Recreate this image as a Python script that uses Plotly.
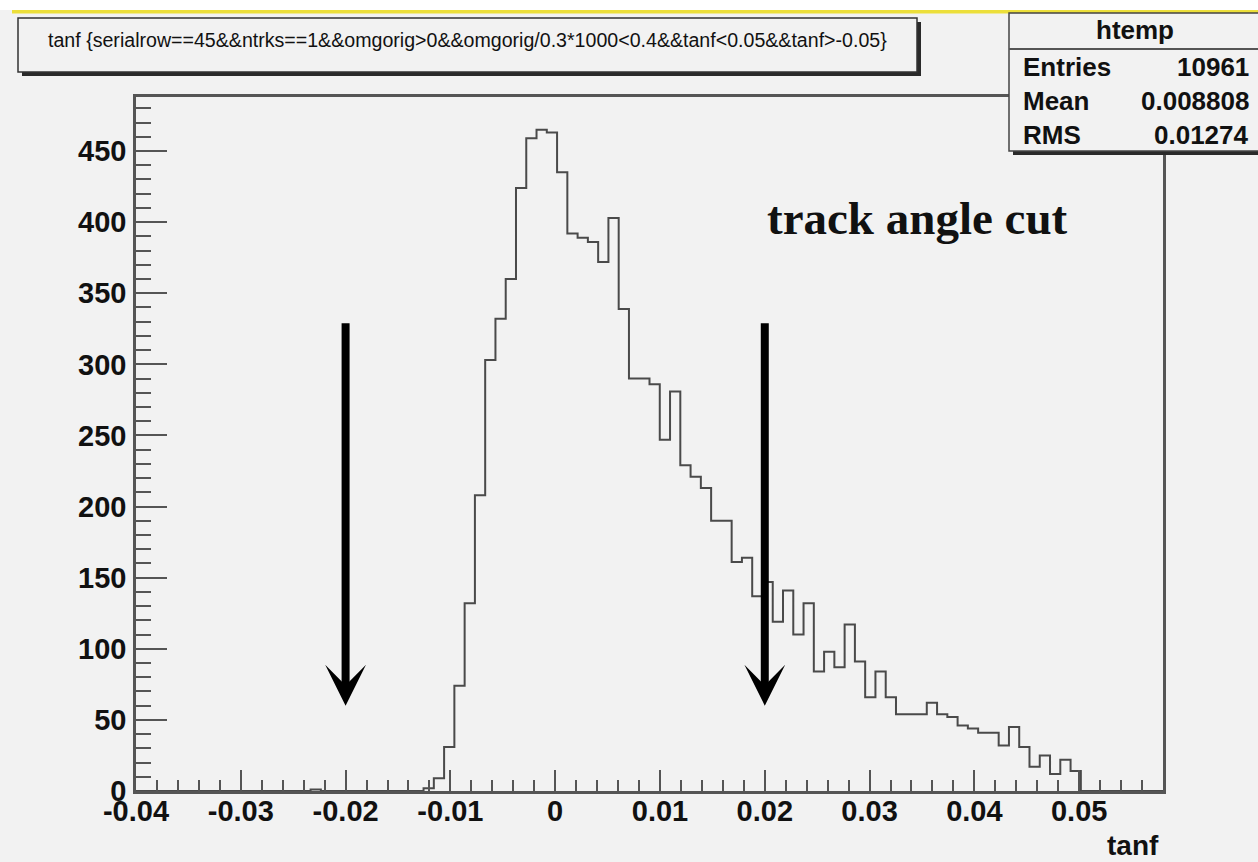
import html
import numpy as np
import plotly.graph_objects as go

# ---- histogram "htemp" of tanf (100 bins) ----
n_bins = 100
x_min, x_max = -0.04, 0.058
y_max = 488

counts = [
    0, 0, 0, 0, 0, 0, 0, 0, 0, 0,
    0, 0, 0, 0, 0, 0, 0, 1, 0, 0,
    0, 0, 0, 0, 0, 0, 0, 0, 2, 9,
    31, 74, 132, 208, 303, 332, 360, 424, 459, 465,
    463, 435, 392, 389, 386, 372, 403, 339, 290, 290,
    286, 247, 281, 229, 221, 213, 190, 190, 161, 164,
    137, 147, 119, 141, 110, 132, 84, 98, 87, 117,
    91, 66, 84, 66, 54, 54, 54, 62, 54, 52,
    46, 44, 41, 41, 32, 45, 31, 17, 25, 12,
    22, 14, 0, 0, 0, 0, 0, 0, 0, 0,
]

x_tick_vals = [-0.04, -0.03, -0.02, -0.01, 0, 0.01, 0.02, 0.03, 0.04, 0.05]
x_tick_text = ["-0.04", "-0.03", "-0.02", "-0.01", "0", "0.01", "0.02", "0.03", "0.04", "0.05"]

selection = "tanf {serialrow==45&&ntrks==1&&omgorig>0&&omgorig/0.3*1000<0.4&&tanf<0.05&&tanf>-0.05}"
hist_name = "htemp"
stats_labels = ["Entries", "Mean", "RMS"]
stats_values = ["10961", "0.008808", "0.01274"]
x_title = "tanf"

cut_label = "track angle cut"
cut_positions = [-0.02, 0.02]
arrow_top, arrow_tip = 330, 60

# ---- page geometry ----
W, H = 1258, 862
ML, MR, MT, MB = 136, 95, 97, 71
PW, PH = W - ML - MR, H - MT - MB


def px_x(px):
    return (px - ML) / PW


def px_y(py):
    return (H - MB - py) / PH


BG = "#f2f2f2"
AXIS = "#555555"
SANS = "Liberation Sans, Arial, sans-serif"

edges = np.linspace(x_min, x_max, n_bins + 1)
step_y = list(counts) + [counts[-1]]

fig = go.Figure()
fig.add_trace(go.Scatter(
    x=edges, y=step_y, mode="lines", line_shape="hv",
    line=dict(color="#4a4a4a", width=2), hoverinfo="skip", showlegend=False,
))

tickfont = dict(family=SANS, size=29, color="#111111", weight="bold")

fig.update_xaxes(
    range=[x_min, x_max], tickvals=x_tick_vals, ticktext=x_tick_text,
    ticks="inside", ticklen=21, tickwidth=2, tickcolor=AXIS,
    minor=dict(ticks="inside", ticklen=11, tickwidth=2, tickcolor=AXIS, dtick=0.002, tick0=0),
    showline=True, linecolor=AXIS, linewidth=2.5, mirror=True,
    showgrid=False, zeroline=False, tickfont=tickfont, ticklabelstandoff=-8,
)
fig.update_yaxes(
    range=[0, y_max], dtick=50, tick0=0,
    ticks="inside", ticklen=31, tickwidth=2, tickcolor=AXIS,
    minor=dict(ticks="inside", ticklen=15, tickwidth=2, tickcolor=AXIS, dtick=10, tick0=0),
    showline=True, linecolor=AXIS, linewidth=2.5, mirror=True,
    showgrid=False, zeroline=False, tickfont=tickfont, ticklabelstandoff=1,
)

shapes = []
annotations = []

# top strip of the canvas
shapes.append(dict(type="rect", xref="paper", yref="paper", layer="above",
                   x0=px_x(0), x1=px_x(W), y0=px_y(0), y1=px_y(10),
                   fillcolor="white", line=dict(width=0)))
shapes.append(dict(type="rect", xref="paper", yref="paper", layer="above",
                   x0=px_x(12), x1=px_x(W), y0=px_y(10), y1=px_y(13.5),
                   fillcolor="#ecdf3a", line=dict(width=0)))

# title pave with shadow
shapes.append(dict(type="rect", xref="paper", yref="paper", layer="above",
                   x0=px_x(22), x1=px_x(921), y0=px_y(22), y1=px_y(76),
                   fillcolor="#2a2a2a", line=dict(width=0)))
shapes.append(dict(type="rect", xref="paper", yref="paper", layer="above",
                   x0=px_x(18), x1=px_x(917), y0=px_y(18), y1=px_y(72),
                   fillcolor=BG, line=dict(color="#333333", width=1.5)))
annotations.append(dict(xref="paper", yref="paper", x=px_x(46), y=px_y(40),
                        xanchor="left", yanchor="middle", showarrow=False,
                        text=html.escape(selection, quote=False),
                        font=dict(family=SANS, size=19.6, color="#111111")))

# statistics box with shadow
shapes.append(dict(type="rect", xref="paper", yref="paper", layer="above",
                   x0=px_x(1013), x1=px_x(1266), y0=px_y(17), y1=px_y(155),
                   fillcolor="#2a2a2a", line=dict(width=0)))
shapes.append(dict(type="rect", xref="paper", yref="paper", layer="above",
                   x0=px_x(1009), x1=px_x(1262), y0=px_y(13), y1=px_y(151),
                   fillcolor=BG, line=dict(color="#444444", width=1.5)))
shapes.append(dict(type="line", xref="paper", yref="paper", layer="above",
                   x0=px_x(1009), x1=px_x(1262), y0=px_y(49), y1=px_y(49),
                   line=dict(color="#555555", width=2)))
annotations.append(dict(xref="paper", yref="paper", x=px_x(1135), y=px_y(30),
                        xanchor="center", yanchor="middle", showarrow=False,
                        text=hist_name,
                        font=dict(family=SANS, size=26, color="#111111", weight="bold")))
for i, (lab, val) in enumerate(zip(stats_labels, stats_values)):
    yrow = px_y(67 + 34 * i)
    annotations.append(dict(xref="paper", yref="paper", x=px_x(1021), y=yrow,
                            xanchor="left", yanchor="middle", showarrow=False, text=lab,
                            font=dict(family=SANS, size=26, color="#111111", weight="bold")))
    annotations.append(dict(xref="paper", yref="paper", x=px_x(1251), y=yrow,
                            xanchor="right", yanchor="middle", showarrow=False, text=val,
                            font=dict(family=SANS, size=26, color="#111111", weight="bold")))

# x-axis title
annotations.append(dict(xref="paper", yref="paper", x=px_x(1161), y=px_y(845),
                        xanchor="right", yanchor="middle", showarrow=False, text=x_title,
                        font=dict(family=SANS, size=28, color="#111111", weight="bold")))

# cut markers
for xc in cut_positions:
    annotations.append(dict(xref="x", yref="y", axref="x", ayref="y",
                            x=xc, y=arrow_tip, ax=xc, ay=arrow_top, text="",
                            showarrow=True, arrowhead=3, arrowsize=0.85,
                            arrowwidth=8, arrowcolor="black"))
annotations.append(dict(xref="x", yref="y", x=cut_positions[1], y=403,
                        xanchor="left", yanchor="middle", showarrow=False, text=cut_label,
                        font=dict(family="Liberation Serif, Times New Roman, serif",
                                  size=47, color="#111111", weight="bold")))

fig.update_layout(
    width=W, height=H,
    margin=dict(l=ML, r=MR, t=MT, b=MB, pad=0),
    paper_bgcolor=BG, plot_bgcolor=BG,
    shapes=shapes, annotations=annotations,
    showlegend=False,
)

fig.write_html("out.html")
